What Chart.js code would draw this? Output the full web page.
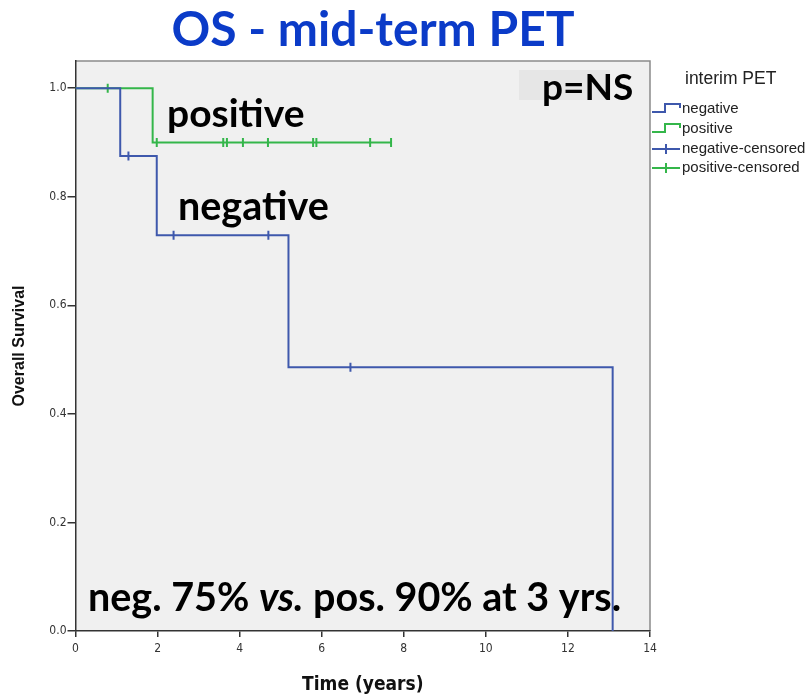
<!DOCTYPE html>
<html>
<head>
<meta charset="utf-8">
<script src="https://cdn.jsdelivr.net/npm/chart.js@4.4.1/dist/chart.umd.min.js"></script>
<style>
  html, body { margin: 0; padding: 0; background: #ffffff; }
  #wrap { width: 812px; height: 696px; position: relative; }
</style>
</head>
<body>
<div id="wrap"><canvas id="kmChart"></canvas></div>
<script>
/* Kaplan-Meier curves: overall survival by interim (mid-term) PET */

// step curves (time in years, survival fraction)
var negTimes = [0, 1.09, 1.98, 5.19, 13.09];
var negSurv  = [1, 0.875, 0.729, 0.486, 0];
var posTimes = [0, 1.88, 7.69];
var posSurv  = [1, 0.9, 0.9];

// censored observations
var negCensTimes = [1.29, 2.39, 4.70, 6.70];
var negCensSurv  = [0.875, 0.729, 0.729, 0.486];
var posCensTimes = [0.785, 1.98, 3.60, 3.69, 4.08, 4.69, 5.79, 5.87, 7.18, 7.69];
var posCensSurv  = [1, 0.9, 0.9, 0.9, 0.9, 0.9, 0.9, 0.9, 0.9, 0.9];

var seriesLabels = ['negative', 'positive', 'negative-censored', 'positive-censored'];
var xTicks = [0, 2, 4, 6, 8, 10, 12, 14];
var yTicks = [0, 0.2, 0.4, 0.6, 0.8, 1.0];

var BLUE = '#3e58ac';
var GREEN = '#34b64a';
var BIG_FONT = 'Lato, "Open Sans", sans-serif';

function pts(xs, ys) {
  return xs.map(function (x, i) { return { x: x, y: ys[i] }; });
}

/* ---------------------------------------------------------
   Plot background, frame, annotations and legend
   --------------------------------------------------------- */
var decorPlugin = {
  id: 'decor',
  beforeDraw: function (chart) {
    var ctx = chart.ctx, a = chart.chartArea;
    ctx.save();
    ctx.fillStyle = '#ffffff';
    ctx.fillRect(0, 0, chart.width, chart.height);
    ctx.fillStyle = '#f0f0f0';
    ctx.fillRect(a.left, a.top, a.right - a.left, a.bottom - a.top);
    // p=NS shaded box
    ctx.fillStyle = '#e6e6e6';
    ctx.fillRect(519, 70, 91, 30);
    ctx.strokeStyle = '#8a8a8a';
    ctx.lineWidth = 1.5;
    ctx.beginPath();
    ctx.moveTo(a.left, a.top);
    ctx.lineTo(a.right, a.top);
    ctx.lineTo(a.right, a.bottom);
    ctx.stroke();
    ctx.restore();
  },
  afterDraw: function (chart) {
    var ctx = chart.ctx;
    ctx.save();
    ctx.textBaseline = 'middle';

    // title
    ctx.fillStyle = '#0b3bc8';
    ctx.font = 'bold 48px ' + BIG_FONT;
    ctx.textAlign = 'center';
    ctx.fillText('OS - mid-term PET', 373, 31);

    // in-plot labels
    ctx.textAlign = 'left';
    ctx.fillStyle = '#000000';
    ctx.font = 'bold 39px ' + BIG_FONT;
    ctx.fillText('positive', 167, 114);
    ctx.font = 'bold 39.5px ' + BIG_FONT;
    ctx.fillText('negative', 178, 207);
    ctx.font = 'bold 37px ' + BIG_FONT;
    ctx.fillText('p=NS', 542, 88);

    // bottom note, with italic "vs."
    var x = 88, y = 598;
    var parts = [['neg. 75% ', 'bold'], ['vs.', 'italic bold'], [' pos. 90% at 3 yrs.', 'bold']];
    parts.forEach(function (p) {
      ctx.font = p[1] + ' 39.5px ' + BIG_FONT;
      ctx.fillText(p[0], x, y);
      x += ctx.measureText(p[0]).width;
    });

    // legend
    ctx.fillStyle = '#222222';
    ctx.font = '17.5px "Liberation Sans", Arial, sans-serif';
    ctx.fillText('interim PET', 685, 79);
    ctx.font = '15px "Liberation Sans", Arial, sans-serif';
    var rows = [109, 129, 149, 168];
    var cols = [BLUE, GREEN, BLUE, GREEN];
    rows.forEach(function (ry, i) {
      ctx.strokeStyle = cols[i];
      ctx.lineWidth = 2;
      ctx.beginPath();
      if (i < 2) {
        ctx.moveTo(652, ry + 3);
        ctx.lineTo(665, ry + 3);
        ctx.lineTo(665, ry - 5);
        ctx.lineTo(680, ry - 5);
        ctx.lineTo(680, ry - 1);
      } else {
        ctx.moveTo(652, ry);
        ctx.lineTo(680, ry);
        ctx.moveTo(666, ry - 5);
        ctx.lineTo(666, ry + 5);
      }
      ctx.stroke();
      ctx.fillStyle = '#222222';
      ctx.fillText(seriesLabels[i], 682, ry);
    });
    ctx.restore();
  }
};

document.addEventListener('DOMContentLoaded', function () {
  var ctx = document.getElementById('kmChart');

  new Chart(ctx, {
    type: 'scatter',
    data: {
      datasets: [{
        label: seriesLabels[0],
        data: pts(negTimes, negSurv),
        showLine: true,
        stepped: true,
        borderColor: BLUE,
        borderWidth: 2,
        pointRadius: 0
      }, {
        label: seriesLabels[1],
        data: pts(posTimes, posSurv),
        showLine: true,
        stepped: true,
        borderColor: GREEN,
        borderWidth: 2,
        pointRadius: 0
      }, {
        label: seriesLabels[2],
        data: pts(negCensTimes, negCensSurv),
        pointStyle: 'line',
        rotation: 90,
        radius: 4.5,
        borderColor: BLUE,
        borderWidth: 2
      }, {
        label: seriesLabels[3],
        data: pts(posCensTimes, posCensSurv),
        pointStyle: 'line',
        rotation: 90,
        radius: 4.5,
        borderColor: GREEN,
        borderWidth: 2
      }]
    },
    options: {
      responsive: true,
      maintainAspectRatio: false,
      animation: false,
      layout: { padding: { top: 61, right: 162, left: 0, bottom: 0 } },
      plugins: {
        legend: { display: false },
        title: { display: false },
        tooltip: { enabled: false }
      },
      scales: {
        x: {
          type: 'linear',
          min: 0,
          max: 14,
          afterFit: function (s) { s.height = 65; },
          afterBuildTicks: function (s) { s.ticks = xTicks.map(function (v) { return { value: v }; }); },
          ticks: {
            color: '#333333',
            padding: 5,
            font: { family: '"Liberation Sans Narrow", "DejaVu Sans Condensed", sans-serif', size: 12 }
          },
          grid: { drawOnChartArea: false, drawTicks: true, tickLength: 6, color: '#333333', lineWidth: 1.5 },
          border: { display: true, color: '#333333', width: 1.5 },
          title: {
            display: true,
            text: 'Time (years)',
            color: '#111111',
            padding: { top: 0, bottom: 0 },
            font: { family: '"Liberation Sans Narrow", "DejaVu Sans Condensed", sans-serif', size: 19, weight: 'bold' }
          }
        },
        y: {
          type: 'linear',
          min: 0,
          max: 1.05,
          afterFit: function (s) { s.width = 75.5; },
          afterBuildTicks: function (s) { s.ticks = yTicks.map(function (v) { return { value: v }; }); },
          ticks: {
            color: '#333333',
            padding: 1,
            callback: function (v) { return Number(v).toFixed(1); },
            font: { family: '"Liberation Sans Narrow", "DejaVu Sans Condensed", sans-serif', size: 12 }
          },
          grid: { drawOnChartArea: false, drawTicks: true, tickLength: 8, color: '#333333', lineWidth: 1.5 },
          border: { display: true, color: '#333333', width: 1.5 },
          title: {
            display: true,
            text: 'Overall Survival',
            color: '#111111',
            padding: { top: 10, bottom: 0 },
            font: { family: '"Liberation Sans", Arial, sans-serif', size: 16, weight: 'bold' }
          }
        }
      }
    },
    plugins: [decorPlugin]
  });
});
</script>
</body>
</html>
